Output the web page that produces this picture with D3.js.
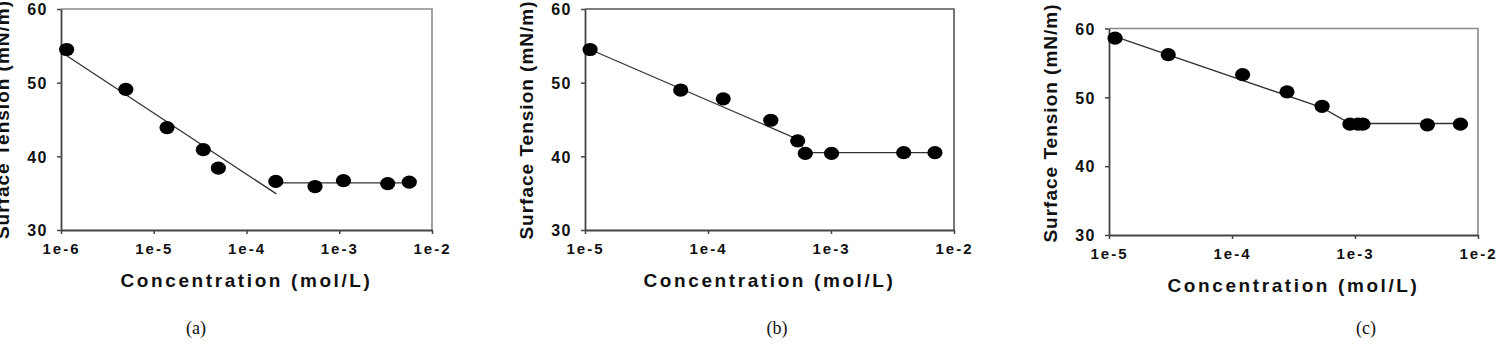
<!DOCTYPE html>
<html lang="en">
<head>
    <meta charset="UTF-8">
    <title>Surface Tension vs Concentration</title>
    <script src="https://cdnjs.cloudflare.com/ajax/libs/d3/7.8.5/d3.min.js"></script>
    <style>
        body {
            margin: 0;
            overflow: hidden;
            background: #fff;
        }
        .tick text {
            font-family: "Liberation Sans", Arial, sans-serif;
            font-weight: bold;
            fill: #111;
        }
        .title {
            font-family: "Liberation Sans", Arial, sans-serif;
            font-weight: bold;
            fill: #111;
        }
        .caption {
            font-family: "Liberation Serif", "Times New Roman", serif;
            font-size: 18px;
            fill: #111;
        }
    </style>
</head>
<body>
    <script>
        const width = 1497;
        const height = 354;

        // shared axis labels
        const yTicks = [30, 40, 50, 60];
        const xTicksA = [1e-6, 1e-5, 1e-4, 1e-3, 1e-2];
        const xLabelsA = ['1e-6', '1e-5', '1e-4', '1e-3', '1e-2'];
        const xTicksBC = [1e-5, 1e-4, 1e-3, 1e-2];
        const xLabelsBC = ['1e-5', '1e-4', '1e-3', '1e-2'];

        // panel (a)
        const concA = [1.15e-6, 5.0e-6, 1.39e-5, 3.42e-5, 4.97e-5, 2.07e-4, 5.48e-4, 1.11e-3, 3.33e-3, 5.69e-3];
        const tensionA = [54.5, 49.1, 43.9, 40.9, 38.4, 36.6, 35.9, 36.7, 36.3, 36.5];
        const fitConcA1 = [1.05e-6, 2.1e-4];
        const fitTensionA1 = [54.0, 34.9];
        const fitConcA2 = [2.07e-4, 5.7e-3];
        const fitTensionA2 = [36.4, 36.4];

        // panel (b)
        const concB = [1.1e-5, 6.0e-5, 1.33e-4, 3.24e-4, 5.36e-4, 6.18e-4, 1.01e-3, 3.9e-3, 7.0e-3];
        const tensionB = [54.5, 49.0, 47.8, 44.9, 42.1, 40.4, 40.4, 40.5, 40.5];
        const fitConcB = [1.1e-5, 5.4e-4, 6.2e-4, 7.0e-3];
        const fitTensionB = [54.5, 42.3, 40.5, 40.5];

        // panel (c)
        const concC = [1.12e-5, 3.03e-5, 1.22e-4, 2.8e-4, 5.4e-4, 9.1e-4, 1.06e-3, 1.16e-3, 3.88e-3, 7.2e-3];
        const tensionC = [58.6, 56.2, 53.3, 50.8, 48.7, 46.1, 46.1, 46.1, 46.0, 46.1];
        const fitConcC = [1.05e-5, 5.4e-4, 9.1e-4, 7.2e-3];
        const fitTensionC = [59.0, 48.5, 46.2, 46.2];

        const svg = d3.select('body')
            .append('svg')
            .attr('width', width)
            .attr('height', height);

        function zip(xs, ys) {
            return xs.map((x, i) => [x, ys[i]]);
        }

        function drawPanel(p) {
            const x = d3.scaleLog().domain(p.xDomain).range([p.left, p.right]);
            const y = d3.scaleLinear().domain([30, 60]).range([p.bottom, p.top]);
            const g = svg.append('g');

            // frame (top / right are lighter)
            g.append('path')
                .attr('d', `M${p.left},${p.top}H${p.right}V${p.bottom}`)
                .attr('fill', 'none')
                .attr('stroke', p.topColor)
                .attr('stroke-width', 1.6);

            const xAxis = g.append('g')
                .attr('transform', `translate(0,${p.bottom})`)
                .call(d3.axisBottom(x)
                    .tickValues(p.xTicks)
                    .tickFormat((d, i) => p.xLabels[i])
                    .tickSizeInner(4)
                    .tickSizeOuter(0)
                    .tickPadding(9));
            xAxis.selectAll('text')
                .style('font-size', '15px')
                .style('letter-spacing', '2px');

            const yAxis = g.append('g')
                .attr('transform', `translate(${p.left},0)`)
                .call(d3.axisLeft(y)
                    .tickValues(yTicks)
                    .tickSizeInner(4)
                    .tickSizeOuter(0)
                    .tickPadding(9));
            yAxis.selectAll('text')
                .style('font-size', '16px')
                .style('letter-spacing', '1.5px')
                .attr('dy', '0.36em');

            [xAxis, yAxis].forEach(a => {
                a.select('.domain').attr('stroke', '#444').attr('stroke-width', 1.8);
                a.selectAll('.tick line').attr('stroke', '#444').attr('stroke-width', 1.5);
            });

            // fitted lines
            const line = d3.line().x(d => x(d[0])).y(d => y(d[1]));
            p.fits.forEach(f => {
                g.append('path')
                    .datum(f)
                    .attr('d', line)
                    .attr('fill', 'none')
                    .attr('stroke', '#333')
                    .attr('stroke-width', 1.3);
            });

            // markers
            g.selectAll('ellipse')
                .data(p.points)
                .enter()
                .append('ellipse')
                .attr('cx', d => x(d[0]))
                .attr('cy', d => y(d[1]))
                .attr('rx', 7.6)
                .attr('ry', 6.6)
                .attr('fill', '#000');

            // axis titles
            g.append('text')
                .attr('class', 'title')
                .attr('x', (p.left + p.right) / 2)
                .attr('y', p.bottom + 57)
                .attr('text-anchor', 'middle')
                .style('font-size', '19px')
                .style('letter-spacing', '2.6px')
                .text('Concentration (mol/L)');

            g.append('text')
                .attr('class', 'title')
                .attr('transform', `translate(${p.left - 52},${p.yLabelMid}) rotate(-90)`)
                .attr('text-anchor', 'middle')
                .style('font-size', '19px')
                .style('letter-spacing', '1px')
                .text('Surface Tension (mN/m)');

            g.append('text')
                .attr('class', 'caption')
                .attr('x', p.captionX)
                .attr('y', 334)
                .attr('text-anchor', 'middle')
                .text(p.caption);
        }

        drawPanel({
            left: 61, right: 432, top: 9, bottom: 230,
            xDomain: [1e-6, 1e-2], xTicks: xTicksA, xLabels: xLabelsA,
            points: zip(concA, tensionA),
            fits: [zip(fitConcA1, fitTensionA1), zip(fitConcA2, fitTensionA2)],
            topColor: '#8a8a8a', yLabelMid: 119.5, captionX: 196, caption: '(a)'
        });

        drawPanel({
            left: 585, right: 954, top: 9, bottom: 230,
            xDomain: [1e-5, 1e-2], xTicks: xTicksBC, xLabels: xLabelsBC,
            points: zip(concB, tensionB),
            fits: [zip(fitConcB, fitTensionB)],
            topColor: '#555', yLabelMid: 120, captionX: 777, caption: '(b)'
        });

        drawPanel({
            left: 1109, right: 1478, top: 28.5, bottom: 235,
            xDomain: [1e-5, 1e-2], xTicks: xTicksBC, xLabels: xLabelsBC,
            points: zip(concC, tensionC),
            fits: [zip(fitConcC, fitTensionC)],
            topColor: '#8a8a8a', yLabelMid: 123, captionX: 1366, caption: '(c)'
        });
    </script>
</body>
</html>
